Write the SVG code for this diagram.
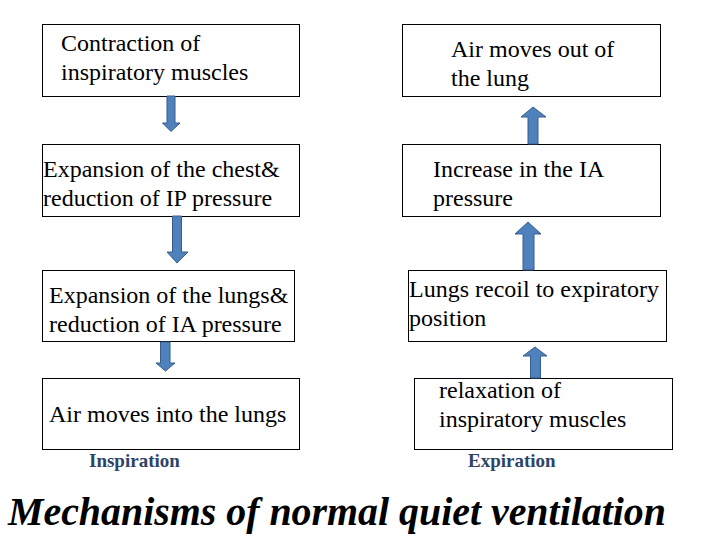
<svg xmlns="http://www.w3.org/2000/svg" width="720" height="540" viewBox="0 0 720 540">
<style>
.box{fill:#fff;stroke:#000;stroke-width:1}
.t{font-family:"Liberation Serif","Times New Roman",serif;font-size:24px;fill:#000}
.lbl{font-family:"Liberation Serif","Times New Roman",serif;font-size:19px;font-weight:bold;fill:#2E4467}
.arr{fill:#4F81BD;stroke:#385D8A;stroke-width:1}
.title{font-family:"Liberation Serif","Times New Roman",serif;font-size:41px;font-weight:bold;font-style:italic;fill:#000}
</style>
<rect width="720" height="540" fill="#fff"/>
<g id="n1"><rect class="box" x="42.5" y="24.5" width="257" height="72"/><text class="t" x="61" y="51">Contraction of</text><text class="t" x="61" y="80">inspiratory muscles</text></g>
<g id="n2"><rect class="box" x="42.5" y="144.5" width="257" height="72"/><text class="t" x="43" y="177">Expansion of the chest&amp;</text><text class="t" x="43" y="206">reduction of IP pressure</text></g>
<g id="n3"><rect class="box" x="42.5" y="270.5" width="252" height="71"/><text class="t" x="49" y="303">Expansion of the lungs&amp;</text><text class="t" x="49" y="332">reduction of IA pressure</text></g>
<g id="n4"><rect class="box" x="42.5" y="378.5" width="257" height="71"/><text class="t" x="49" y="422">Air moves into the lungs</text></g>
<g id="n5"><rect class="box" x="402.5" y="24.5" width="258" height="72"/><text class="t" x="451" y="57">Air moves out of</text><text class="t" x="451" y="86">the lung</text></g>
<g id="n6"><rect class="box" x="402.5" y="144.5" width="258" height="72"/><text class="t" x="433" y="177">Increase in the IA</text><text class="t" x="433" y="206">pressure</text></g>
<g id="n7"><rect class="box" x="408.5" y="270.5" width="258" height="71"/><text class="t" x="409" y="297">Lungs recoil to expiratory</text><text class="t" x="409" y="326">position</text></g>
<g id="n8"><rect class="box" x="414.5" y="378.5" width="258" height="71"/><text class="t" x="439" y="398">relaxation of</text><text class="t" x="439" y="427">inspiratory muscles</text></g>
<g id="connectors">
<polygon class="arr" points="167,96 175,96 175,123 180,123 171,131.5 162.5,123 167,123"/>
<polygon class="arr" points="172.5,216 181.5,216 181.5,252 188,252 177,263 167,252 172.5,252"/>
<polygon class="arr" points="160.5,342 170,342 170,363 175,363 165.5,371 156,363 160.5,363"/>
<polygon class="arr" points="528,144 538,144 538,117 546,117 533,107 521,117 528,117"/>
<polygon class="arr" points="523,270 534,270 534,234 541,234 528,222 515,234 523,234"/>
<polygon class="arr" points="530.5,378 540.5,378 540.5,356 547,356 535,347 523,356 530.5,356"/>
</g>
<text class="lbl" x="89" y="467">Inspiration</text>
<text class="lbl" x="468" y="467">Expiration</text>
<text class="title" x="8" y="525" textLength="658" lengthAdjust="spacingAndGlyphs">Mechanisms of normal quiet ventilation</text>
</svg>
